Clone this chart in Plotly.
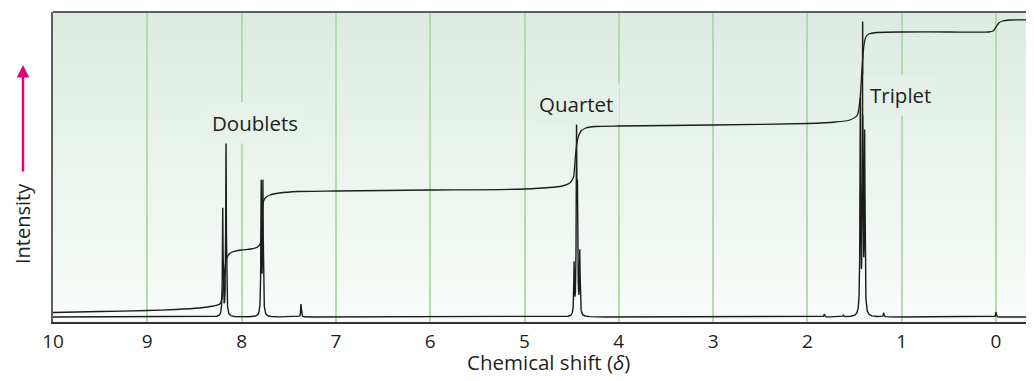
import numpy as np
import plotly.graph_objects as go

# ---------------- data ----------------
# NMR peaks: chemical shift (ppm) and height (intensity units above baseline)
peak_shift = [8.200, 8.165, 7.792, 7.774, 7.370,
              4.474, 4.448, 4.438, 4.414,
              1.439, 1.414, 1.393,
              1.820, 1.620, 1.190, 0.000]
peak_height = [107, 175, 131, 131, 13,
               50, 180, 110, 62,
               211, 284, 176,
               3, 2, 4, 5]
peak_halfwidth = 0.004  # ppm, Lorentzian half width

# integral trace, read point by point
integral_shift = [10.0, 9.5, 9.0, 8.7, 8.45, 8.3, 8.23, 8.205, 8.19, 8.175, 8.16, 8.14,
                  8.10, 8.0, 7.9, 7.83, 7.80, 7.79, 7.78, 7.77, 7.75, 7.70, 7.6, 7.4,
                  7.0, 6.0, 5.0, 4.6, 4.52, 4.48, 4.465, 4.45, 4.43, 4.40, 4.35, 4.25,
                  4.0, 3.0, 2.0, 1.7, 1.55, 1.47, 1.44, 1.42, 1.40, 1.38, 1.35, 1.25,
                  1.0, 0.5, 0.08, 0.03, 0.0, -0.03, -0.07, -0.15, -0.403]
integral_value = [4.5, 5.5, 6.5, 7.5, 9, 11, 13, 20, 35, 50, 58, 62,
                  65, 67, 68, 70, 74, 88, 105, 115, 119, 122, 124, 125.5,
                  126, 127, 128, 131, 134, 140, 155, 170, 180, 186, 189, 190.5,
                  191, 192, 193.5, 195, 197, 202, 220, 250, 272, 280, 283, 284.5,
                  285, 285, 285, 286, 290, 294, 296, 297, 297]

tick_values = [10, 9, 8, 7, 6, 5, 4, 3, 2, 1, 0]
tick_labels = ["10", "9", "8", "7", "6", "5", "4", "3", "2", "1", "0"]

labels_text = ["Doublets", "Quartet", "Triplet"]
labels_shift = [7.86, 4.45, 1.01]
labels_y = [194, 213, 222]

x_range = [10.0, -0.403]
y_range = [-5, 305]

# ---------------- build spectrum ----------------
xs = np.concatenate([np.linspace(x_range[0], x_range[1], 20001), np.array(peak_shift)])
xs = np.sort(xs)[::-1]
ys = np.zeros_like(xs)
for p, h in zip(peak_shift, peak_height):
    ys += h / (1.0 + ((xs - p) / peak_halfwidth) ** 2)

FONT = "Open Sans"
TEXT = "#231f20"
LINE = "#1c1c1c"

fig = go.Figure()
fig.add_trace(go.Scatter(x=list(integral_shift), y=list(integral_value), mode="lines",
                         line=dict(color=LINE, width=1.3, shape="spline", smoothing=0.6),
                         hoverinfo="skip", showlegend=False))
fig.add_trace(go.Scatter(x=xs, y=ys, mode="lines",
                         line=dict(color=LINE, width=1.4),
                         hoverinfo="skip", showlegend=False))

# background gradient bands
top = np.array([220, 236, 225])
bot = np.array([249, 252, 250])
n = 60
shapes = []
for i in range(n):
    t = (i + 0.5) / n  # 0 bottom -> 1 top
    c = bot * (1 - t) + top * t
    shapes.append(dict(type="rect", xref="paper", yref="paper",
                       x0=0, x1=1, y0=i / n, y1=(i + 1) / n + 0.002,
                       fillcolor="rgb(%d,%d,%d)" % tuple(c.round().astype(int)),
                       line=dict(width=0), layer="below"))
# top frame line
shapes.append(dict(type="line", xref="paper", yref="paper", x0=0, x1=1, y0=1, y1=1,
                   line=dict(color="#5e5e5e", width=2), layer="above"))


def bg_at(yval):
    t = (yval - y_range[0]) / (y_range[1] - y_range[0])
    c = bot * (1 - t) + top * t
    return "rgb(%d,%d,%d)" % tuple(c.round().astype(int))


annotations = []
for txt, xv, yv in zip(labels_text, labels_shift, labels_y):
    annotations.append(dict(x=xv, y=yv, xref="x", yref="y", text=txt, showarrow=False,
                            font=dict(family=FONT, size=20.5, color=TEXT),
                            bgcolor=bg_at(yv), borderpad=6))

# page offset: the page body has an 8px margin
OFF = 8
plot_w = 1034 - 53
plot_h = 322 - 12
# y axis label and magenta arrow
annotations.append(dict(x=(22 - 53) / plot_w, y=(322 - 224) / plot_h, xref="paper", yref="paper",
                        text="Intensity", textangle=-90, showarrow=False,
                        xanchor="center", yanchor="middle",
                        font=dict(family=FONT, size=20, color=TEXT)))
annotations.append(dict(x=(23 - 53) / plot_w, y=(322 - 65) / plot_h, xref="paper", yref="paper",
                        text="", showarrow=True, ax=0, ay=108, arrowhead=2, arrowsize=1,
                        arrowwidth=2.5, arrowcolor="#e5007d", standoff=0, startstandoff=0))
# x axis title
annotations.append(dict(x=(548 - 53) / plot_w, y=(322 - 362) / plot_h, xref="paper", yref="paper",
                        text="Chemical shift (<i>δ</i>)", showarrow=False,
                        xanchor="center", yanchor="middle",
                        font=dict(family=FONT, size=20.5, color=TEXT)))

fig.update_layout(
    width=1034 - OFF, height=381 - OFF,
    margin=dict(l=53 - OFF, r=0, t=12 - OFF, b=59, pad=0),
    paper_bgcolor="white",
    plot_bgcolor="rgb(249,252,250)",
    shapes=shapes,
    annotations=annotations,
    xaxis=dict(range=x_range, tickvals=tick_values, ticktext=tick_labels,
               showgrid=True, gridcolor="#b3dcae", gridwidth=1.5,
               showline=True, linecolor="#333333", linewidth=1.8,
               ticks="outside", ticklen=1, tickcolor="rgba(0,0,0,0)",
               tickfont=dict(family=FONT, size=19, color=TEXT),
               zeroline=False, fixedrange=True),
    yaxis=dict(range=y_range, showgrid=False, zeroline=False, showticklabels=False,
               showline=True, linecolor="#5e5e5e", linewidth=2, fixedrange=True),
    showlegend=False,
)

fig.write_html("out.html")
